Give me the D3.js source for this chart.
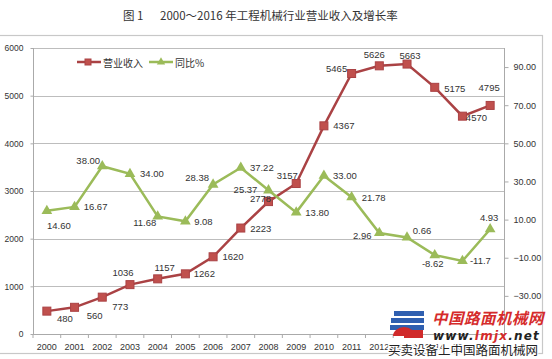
<!DOCTYPE html>
<html><head><meta charset="utf-8">
<script src="https://cdn.jsdelivr.net/npm/d3@7"></script>
<style>body{margin:0;background:#fff}svg{display:block}</style>
</head><body>
<script>
const years = ["2000","2001","2002","2003","2004","2005","2006","2007","2008","2009","2010","2011","2012","2013","2014","2015","2016"];
const revenue = [480,560,773,1036,1157,1262,1620,2223,2778,3157,4367,5465,5626,5663,5175,4570,4795];
const growth = [14.60,16.67,38.00,34.00,11.68,9.08,28.38,37.22,25.37,13.80,33.00,21.78,2.96,0.66,-8.62,-11.7,4.93];
const growthLabels = ["14.60","16.67","38.00","34.00","11.68","9.08","28.38","37.22","25.37","13.80","33.00","21.78","2.96","0.66","-8.62","-11.7","4.93"];
const leftTicks = [0,1000,2000,3000,4000,5000,6000];
const rightTicks = [-30,-10,10,30,50,70,90];
const seriesNames = ["营业收入","同比%"];
const titleParts = ["图 1", "2000～2016 年工程机械行业营业收入及增长率"];

// label placement offsets (layout only)
const revOff = [[18,7],[20,8],[18,9],[-7,-12],[7,-11],[19,0],[20,0],[20,0],[-8,-3],[-9,-8],[20,0],[-15,-5],[-5,-11],[3,-9],[20,1],[14,1],[-1,-18]];
const grOff = [[12,15],[21,0],[-14,-6],[22,0],[-13,6],[18,0],[-16,-7],[21,0],[-23,-1],[21,0],[21,0],[22,0],[-17,2],[15,-7],[-2,8],[18,0],[-1,-12]];

const W=552,H=359;
const svg=d3.select("body").append("svg").attr("width",W).attr("height",H);
const L=33,R=504,T=48,B=334;
const red="#aa4244", redFill="#c0504d", green="#9bbb59";
const font="'Liberation Sans', Arial, sans-serif";
const cjk="'Noto Sans CJK SC', sans-serif";

// frame
svg.append("rect").attr("x",-1).attr("y",35.5).attr("width",543.5).attr("height",318).attr("fill","none").attr("stroke","#c8c8c8").attr("stroke-width",1.2);

const tt=svg.append("text").attr("y",20).attr("font-family",cjk).attr("font-weight",400).attr("font-size",11.5).attr("fill","#333");
tt.append("tspan").attr("x",123).text(titleParts[0]);
tt.append("tspan").attr("x",160).text(titleParts[1]);

const x=d3.scaleBand().domain(years).range([L,R]);
const cx=d=>x(d)+x.bandwidth()/2;
const yL=d3.scaleLinear().domain([0,6000]).range([B,T]);
const yR=d3.scaleLinear().domain([-50,100]).range([B,T]);

// grid
svg.append("g").selectAll("line").data(leftTicks.slice(1)).join("line")
 .attr("x1",L).attr("x2",R).attr("y1",d=>Math.round(yL(d))+0.5).attr("y2",d=>Math.round(yL(d))+0.5)
 .attr("stroke","#bdbdbd").attr("stroke-width",1);

// left axis
const gl=svg.append("g").attr("transform",`translate(${L+0.5},0)`).call(d3.axisLeft(yL).tickValues(leftTicks).tickSize(3).tickPadding(7).tickFormat(d3.format("d")));
gl.selectAll("text").attr("font-family",font).attr("font-size",8.5).attr("fill","#333");
gl.selectAll("line,path").attr("stroke","#aaa");
gl.select(".domain").attr("d",`M0,${T}V${B}`);

// right axis
const gr=svg.append("g").attr("transform",`translate(${R+0.5},0)`).call(d3.axisRight(yR).tickValues(rightTicks).tickSize(4).tickPadding(5).tickFormat(d3.format(".2f")));
gr.selectAll("text").attr("font-family",font).attr("font-size",9).attr("fill","#333");
gr.selectAll("line,path").attr("stroke","#aaa");
gr.select(".domain").attr("d",`M0,${T}V${B}`);

// bottom axis
const gb=svg.append("g").attr("transform",`translate(0,${B+0.5})`).call(d3.axisBottom(x).tickSize(0).tickPadding(9));
gb.selectAll("text").attr("font-family",font).attr("font-size",9).attr("fill","#333");
gb.select(".domain").attr("stroke","#aaa").attr("d",`M${L},0H${R}`);
svg.append("g").selectAll("line").data(years.concat(["end"])).join("line")
 .attr("x1",(d,i)=>L+i*x.bandwidth()).attr("x2",(d,i)=>L+i*x.bandwidth())
 .attr("y1",B).attr("y2",B+4).attr("stroke","#aaa");

// revenue line
svg.append("path").datum(revenue).attr("fill","none").attr("stroke",red).attr("stroke-width",2.5)
 .attr("d",d3.line().x((d,i)=>cx(years[i])).y(d=>yL(d)));
svg.append("g").selectAll("rect").data(revenue).join("rect")
 .attr("x",(d,i)=>cx(years[i])-4).attr("y",d=>yL(d)-4).attr("width",8).attr("height",8)
 .attr("fill",redFill).attr("stroke",red).attr("stroke-width",1);

// growth line
svg.append("path").datum(growth).attr("fill","none").attr("stroke",green).attr("stroke-width",2.5)
 .attr("d",d3.line().x((d,i)=>cx(years[i])).y(d=>yR(d)));
const tri=d3.symbol().type(d3.symbolTriangle).size(50);
svg.append("g").selectAll("path").data(growth).join("path")
 .attr("transform",(d,i)=>`translate(${cx(years[i])},${yR(d)})`).attr("d",tri).attr("fill",green);

// labels
svg.append("g").selectAll("text").data(revenue).join("text")
 .attr("x",(d,i)=>cx(years[i])+revOff[i][0]).attr("y",(d,i)=>yL(d)+revOff[i][1])
 .attr("text-anchor","middle").attr("dominant-baseline","central")
 .attr("font-family",font).attr("font-size",9.5).attr("fill","#333").text(d=>d);
svg.append("g").selectAll("text").data(growth).join("text")
 .attr("x",(d,i)=>cx(years[i])+grOff[i][0]).attr("y",(d,i)=>yR(d)+grOff[i][1])
 .attr("text-anchor","middle").attr("dominant-baseline","central")
 .attr("font-family",font).attr("font-size",9.5).attr("fill","#333").text((d,i)=>growthLabels[i]);

// legend
const lg=svg.append("g").attr("transform","translate(77,62)");
lg.append("line").attr("x1",0).attr("x2",24).attr("stroke",red).attr("stroke-width",2.5);
lg.append("rect").attr("x",8).attr("y",-3).attr("width",6).attr("height",6).attr("fill",redFill).attr("stroke",red);
lg.append("text").attr("x",26).attr("dominant-baseline","central").attr("font-family",cjk).attr("font-size",10).attr("fill","#333").text(seriesNames[0]);
lg.append("line").attr("x1",72).attr("x2",96).attr("stroke",green).attr("stroke-width",2.5);
lg.append("path").attr("transform","translate(84,0)").attr("d",d3.symbol().type(d3.symbolTriangle).size(30)).attr("fill",green);
lg.append("text").attr("x",98).attr("dominant-baseline","central").attr("font-family",cjk).attr("font-size",10).attr("fill","#333").text(seriesNames[1]);

// watermark
const wm=svg.append("g");
wm.append("rect").attr("x",394).attr("y",311).attr("width",30).attr("height",5).attr("fill","#2f5fb0");
wm.append("rect").attr("x",391).attr("y",318).attr("width",33).attr("height",5).attr("fill","#2f5fb0");
wm.append("rect").attr("x",390).attr("y",325).attr("width",34).attr("height",5).attr("fill","#2f5fb0");
wm.append("path").attr("d","M393,336 a11,9 0 0 1 22,0 z").attr("fill","#d02a2a");
wm.append("rect").attr("x",404).attr("y",330).attr("width",19).attr("height",8).attr("fill","#d02a2a");
wm.append("text").attr("x",432).attr("y",324).attr("font-family",cjk).attr("font-weight","bold").attr("font-style","italic").attr("font-size",15.5).attr("fill","#d52b2b").attr("letter-spacing",0.5).text("中国路面机械网");
const ww=wm.append("text").attr("x",433).attr("y",340).attr("font-family","'DejaVu Sans', sans-serif").attr("font-weight","bold").attr("font-style","italic").attr("font-size",12).attr("letter-spacing",1.2).attr("fill","#222");
ww.append("tspan").text("www.");
ww.append("tspan").attr("fill","#d52b2b").text("lmjx");
ww.append("tspan").text(".net");
wm.append("text").attr("x",388).attr("y",355).attr("font-family",cjk).attr("font-size",12.5).attr("fill","#222").attr("stroke","#fff").attr("stroke-width",2.5).attr("paint-order","stroke").text("买卖设备上中国路面机械网");
</script>
</body></html>
